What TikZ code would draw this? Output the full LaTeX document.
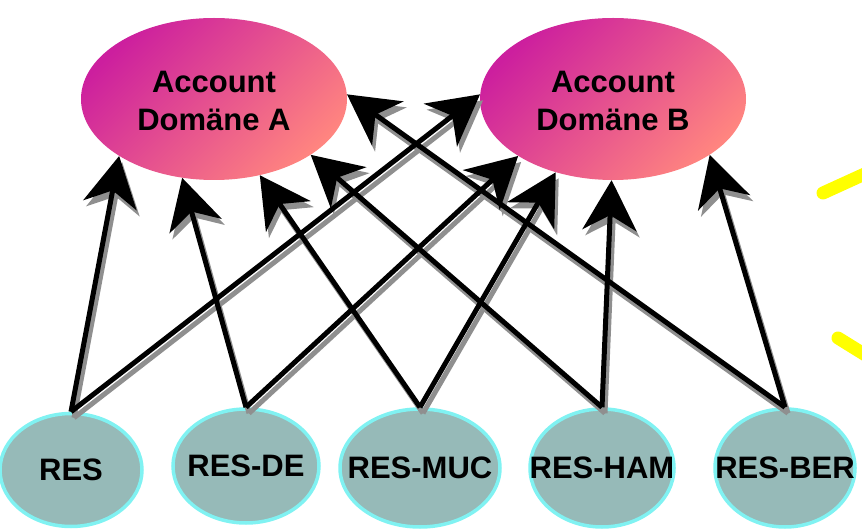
\documentclass[tikz,border=0pt]{standalone}
\usepackage{fontspec}
\setmainfont{Liberation Sans}
\usetikzlibrary{shapes.geometric,arrows.meta}
\newcommand{\labelfont}{\bfseries\fontsize{31}{38}\selectfont}
\begin{document}
\begin{tikzpicture}[x=1pt,y=-1pt,
  domain/.style={ellipse,inner sep=0pt,minimum width=266pt,minimum height=162pt,
    top color=kMagenta,bottom color=kSalmon,shading angle=45,
    label={[align=center,font=\labelfont,yshift=-2pt]center:Account\\Domäne #1}},
  res/.style={ellipse,inner sep=0pt,minimum height=118pt,draw=kCyan,line width=3.5pt,fill=kTeal,
    label={[font=\labelfont]center:#1}},
  link/.style={line width=5pt,-{Stealth[length=50pt,width=54pt,inset=15pt]}},
  linkshadow/.style={link,draw=kShadow,fill=kShadow}]
  % colors
  \definecolor{kMagenta}{rgb}{0.80,0.12,0.62}
  \definecolor{kSalmon}{rgb}{1.0,0.52,0.50}
  \definecolor{kTeal}{rgb}{0.59,0.73,0.72}
  \definecolor{kCyan}{rgb}{0.50,0.95,0.95}
  \definecolor{kShadow}{rgb}{0.56,0.56,0.56}
  \definecolor{kYellow}{rgb}{1.0,1.0,0.0}
  \useasboundingbox (0,0) rectangle (862,529);
  % domains
  \node[domain=A] (dA) at (214,99) {};
  \node[domain=B] (dB) at (613,99) {};
  % resource domains
  \node[res=RES,minimum width=142pt,minimum height=113pt] (res) at (71,470) {};
  \node[res=RES-DE,minimum width=146pt,minimum height=114pt] (de) at (246,466) {};
  \node[res=RES-MUC,minimum width=160pt] (muc) at (420,468) {};
  \node[res=RES-HAM,minimum width=144pt] (ham) at (602,468) {};
  \node[res=RES-BER,minimum width=140pt] (ber) at (785,468) {};
  % trusts
  \foreach \src/\dst in {res/dA.211, res/dB.178, de/dA.248, de/dB.211, muc/dA.301, muc/dB.232, ham/dA.330, ham/dB.269, ber/dA.2, ber/dB.330}
    \draw[linkshadow] ([shift={(3,6)}]\src.north) -- ([shift={(3,6)}]\dst);
  \foreach \src/\dst in {res/dA.211, res/dB.178, de/dA.248, de/dB.211, muc/dA.301, muc/dB.232, ham/dA.330, ham/dB.269, ber/dA.2, ber/dB.330}
    \draw[link] (\src.north) -- (\dst);
  % yellow strokes at the edge
  \draw[line width=13pt,line cap=round,color=kYellow] (823,193) -- (880,167);
  \draw[line width=13pt,line cap=round,color=kYellow] (838,338) -- (880,364);
\end{tikzpicture}
\end{document}
